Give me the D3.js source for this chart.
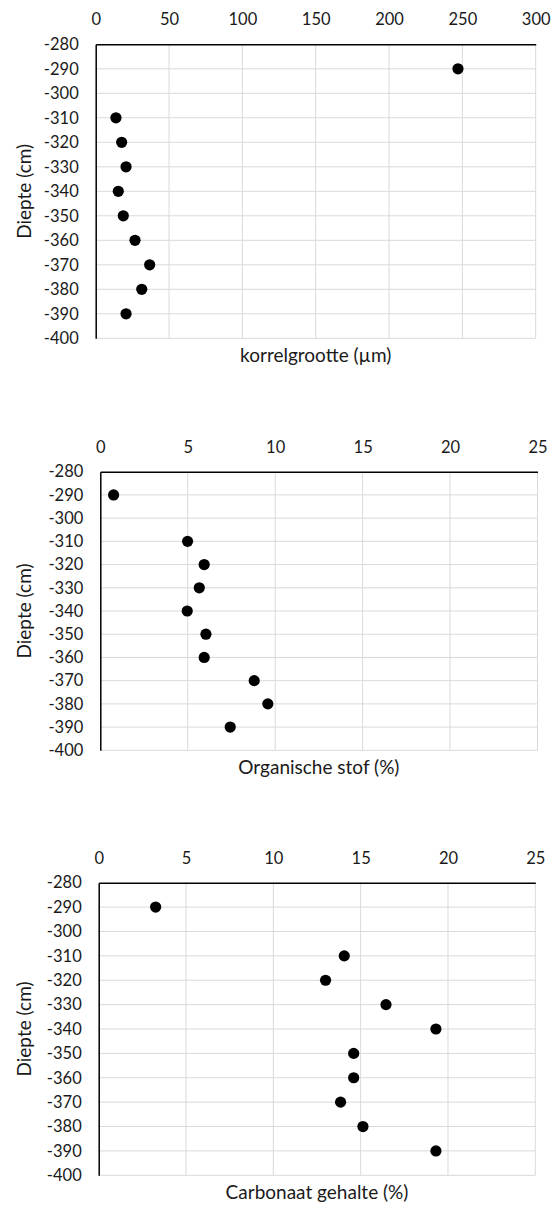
<!DOCTYPE html>
<html>
<head>
<meta charset="utf-8">
<script src="https://cdn.jsdelivr.net/npm/d3@7"></script>
<style>
  html, body { margin: 0; padding: 0; background: #fff; }
  svg { display: block; }
  text { font-family: Lato, "Open Sans", sans-serif; fill: #1a1a1a; }
</style>
</head>
<body>
<svg id="chart" width="551" height="1208"></svg>
<script>
// ---- data ----
const depths = [-290, -310, -320, -330, -340, -350, -360, -370, -380, -390];
const korrelgrootte = [247, 13.8, 17.7, 20.7, 15.4, 18.8, 26.8, 36.8, 31.4, 20.7];
const organischeStof = [0.76, 4.99, 5.94, 5.66, 4.97, 6.04, 5.94, 8.8, 9.58, 7.43];
const carbonaat = [3.26, 14.06, 12.99, 16.45, 19.31, 14.6, 14.6, 13.85, 15.13, 19.31];
const depthTicks = [-280, -290, -300, -310, -320, -330, -340, -350, -360, -370, -380, -390, -400];
const xTicksKorrel = [0, 50, 100, 150, 200, 250, 300];
const xTicksPct = [0, 5, 10, 15, 20, 25];
const yTitle = "Diepte (cm)";
const xTitles = ["korrelgrootte (µm)", "Organische stof (%)", "Carbonaat gehalte (%)"];

// ---- layout ----
const panels = [
  { values: korrelgrootte, ticks: xTicksKorrel, title: xTitles[0], left: 95.7, right: 535.7, top: 44.3, bottom: 338.3 },
  { values: organischeStof, ticks: xTicksPct, title: xTitles[1], left: 100.3, right: 537.5, top: 471.7, bottom: 750.3 },
  { values: carbonaat, ticks: xTicksPct, title: xTitles[2], left: 98.7, right: 535.3, top: 882.7, bottom: 1175.3 }
];

const svg = d3.select("#chart");
const gridColor = "#d9d9d9";
const fmt = d => String(d);

panels.forEach(p => {
  const x = d3.scaleLinear()
    .domain([p.ticks[0], p.ticks[p.ticks.length - 1]])
    .range([p.left, p.right]);
  const y = d3.scaleLinear()
    .domain([depthTicks[0], depthTicks[depthTicks.length - 1]])
    .range([p.top, p.bottom]);

  const g = svg.append("g");

  // vertical gridlines
  g.append("g")
    .selectAll("line")
    .data(p.ticks.slice(1))
    .join("line")
    .attr("x1", d => x(d)).attr("x2", d => x(d))
    .attr("y1", p.top).attr("y2", p.bottom)
    .attr("stroke", gridColor).attr("stroke-width", 1);

  // horizontal gridlines
  g.append("g")
    .selectAll("line")
    .data(depthTicks.slice(1))
    .join("line")
    .attr("x1", p.left).attr("x2", p.right)
    .attr("y1", d => y(d)).attr("y2", d => y(d))
    .attr("stroke", gridColor).attr("stroke-width", 1);

  // top x axis
  const xAxis = g.append("g")
    .attr("transform", `translate(0,${y(depthTicks[0])})`)
    .call(d3.axisTop(x).tickValues(p.ticks).tickSize(0).tickPadding(19).tickFormat(fmt));
  xAxis.select(".domain").attr("stroke", "#000").attr("stroke-width", 1.5);
  xAxis.selectAll("text").style("font-size", "16.5px").style("font-family", "Lato, 'Open Sans', sans-serif").attr("fill", "#1a1a1a");

  // left y axis
  const yAxis = g.append("g")
    .attr("transform", `translate(${x(p.ticks[0])},0)`)
    .call(d3.axisLeft(y).tickValues(depthTicks).tickSize(0).tickPadding(17).tickFormat(fmt));
  yAxis.select(".domain").attr("stroke", "#000").attr("stroke-width", 1.5);
  yAxis.selectAll("text").style("font-size", "16.5px").style("font-family", "Lato, 'Open Sans', sans-serif").attr("fill", "#1a1a1a");

  // points
  g.append("g")
    .selectAll("circle")
    .data(p.values.map((v, i) => ({ v, d: depths[i] })))
    .join("circle")
    .attr("cx", d => x(d.v))
    .attr("cy", d => y(d.d))
    .attr("r", 5.6)
    .attr("fill", "#000");

  // x title
  g.append("text")
    .attr("x", (p.left + p.right) / 2)
    .attr("y", p.bottom + 24)
    .attr("text-anchor", "middle")
    .style("font-size", "19px")
    .text(p.title);

  // y title
  g.append("text")
    .attr("transform", `translate(31,${(p.top + p.bottom) / 2}) rotate(-90)`)
    .attr("text-anchor", "middle")
    .style("font-size", "19px")
    .text(yTitle);
});
</script>
</body>
</html>
